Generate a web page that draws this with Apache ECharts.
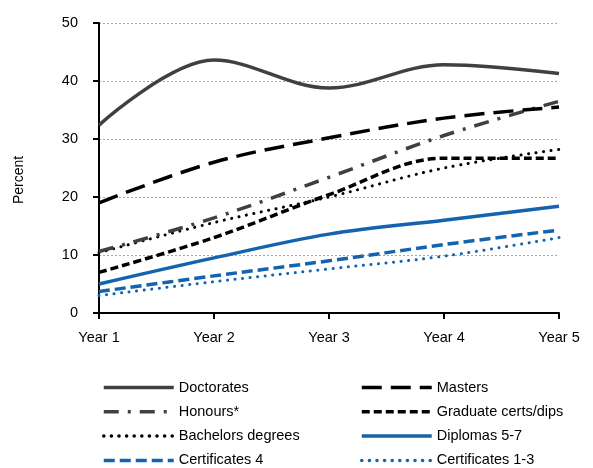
<!DOCTYPE html>
<html>
<head>
<meta charset="utf-8">
<script src="https://cdn.jsdelivr.net/npm/echarts@6/dist/echarts.min.js"></script>
<style>
  html, body { margin: 0; padding: 0; background: #fff; }
  #chart { width: 593px; height: 468px; }
</style>
</head>
<body>
<div id="chart"></div>
<script>
// Completion rates by qualification level, years since commencement
var categories = ['Year 1', 'Year 2', 'Year 3', 'Year 4', 'Year 5'];
var yTicks = [0, 10, 20, 30, 40, 50];

var doctorates   = [32.4, 43.6, 38.8, 42.8, 41.3];
var masters      = [19.0, 26.0, 30.2, 33.6, 35.5];
var honours      = [10.6, 16.4, 23.4, 30.6, 36.5];
var gradCerts    = [7.0, 13.0, 20.4, 26.7, 26.7];
var bachelors    = [10.4, 15.6, 20.0, 25.0, 28.2];
var diplomas     = [5.0, 9.5, 13.6, 16.0, 18.4];
var certs4       = [3.7, 6.4, 9.0, 11.8, 14.3];
var certs1to3    = [3.0, 5.4, 7.6, 9.8, 13.0];

var FONT = 'Liberation Sans, Arial, sans-serif';
var FS = 14.5;
var GREY = '#404040';
var BLACK = '#000000';
var BLUE = '#1463ae';

function line(name, data, color, width, dash, cap) {
  return {
    name: name,
    type: 'line',
    data: data,
    smooth: 0.35,
    symbol: 'none',
    lineStyle: { color: color, width: width, type: dash, cap: cap || 'butt' },
    itemStyle: { color: color },
    emphasis: { disabled: true },
    z: 3
  };
}

var series = [
  line('Certificates 1-3', certs1to3, BLUE, 3, [0.1, 7.5], 'round'),
  line('Certificates 4', certs4, BLUE, 3.5, [11, 5]),
  line('Diplomas 5-7', diplomas, BLUE, 3.5, 'solid'),
  line('Bachelors degrees', bachelors, BLACK, 3, [0.1, 7.5], 'round'),
  line('Graduate certs/dips', gradCerts, BLACK, 3.5, [8, 4]),
  line('Honours*', honours, GREY, 3.5, [15, 9, 3, 9]),
  line('Masters', masters, BLACK, 3.5, [20, 9]),
  line('Doctorates', doctorates, GREY, 3.5, 'solid')
];

var legendCommon = {
  orient: 'vertical',
  top: 380,
  height: 140,
  padding: 0,
  itemWidth: 70,
  itemHeight: 14,
  itemGap: 9.3,
  selectedMode: false,
  itemStyle: { opacity: 0 },
  lineStyle: { width: 3.5 },
  textStyle: { fontFamily: FONT, fontSize: FS, color: '#000' }
};

var chart = echarts.init(document.getElementById('chart'), null, { renderer: 'canvas' });
chart.setOption({
  animation: false,
  backgroundColor: '#fff',
  grid: { left: 99, right: 34, top: 23, bottom: 155, containLabel: false },
  legend: [
    Object.assign({}, legendCommon, {
      left: 102,
      data: ['Doctorates', 'Honours*', 'Bachelors degrees', 'Certificates 4']
    }),
    Object.assign({}, legendCommon, {
      left: 360,
      data: ['Masters', 'Graduate certs/dips', 'Diplomas 5-7', 'Certificates 1-3']
    })
  ],
  xAxis: {
    type: 'category',
    data: categories,
    boundaryGap: false,
    axisLine: { lineStyle: { color: '#000', width: 2 } },
    axisTick: { show: true, inside: false, length: 6, alignWithLabel: true, lineStyle: { color: '#000', width: 2 } },
    axisLabel: { fontFamily: FONT, fontSize: FS, color: '#000', margin: 17 },
    splitLine: { show: false }
  },
  yAxis: {
    type: 'value',
    min: yTicks[0],
    max: yTicks[yTicks.length - 1],
    interval: 10,
    axisLine: { show: true, lineStyle: { color: '#000', width: 2 } },
    axisTick: { show: true, inside: false, length: 6, lineStyle: { color: '#000', width: 2 } },
    axisLabel: { fontFamily: FONT, fontSize: FS, color: '#000', margin: 21 },
    splitLine: { show: true, lineStyle: { color: '#a6a6a6', width: 1, type: [2, 2] } }
  },
  graphic: [{
    type: 'text',
    x: 19,
    y: 180,
    rotation: Math.PI / 2,
    style: {
      text: 'Percent',
      fontFamily: FONT,
      fontSize: 14,
      fill: '#000',
      align: 'center',
      verticalAlign: 'middle'
    }
  }],
  series: series
});
</script>
</body>
</html>
